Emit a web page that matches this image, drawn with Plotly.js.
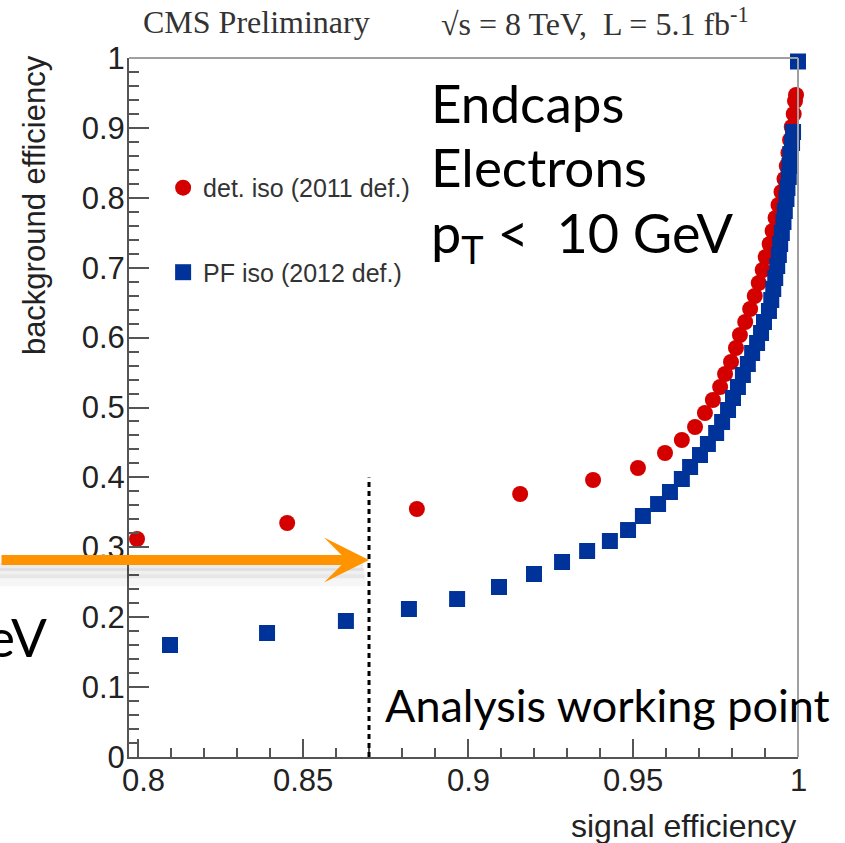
<!DOCTYPE html>
<html>
<head>
<meta charset="utf-8">
<script src="https://cdn.plot.ly/plotly-3.0.1.min.js"></script>
<style>
  html, body { margin: 0; padding: 0; background: #ffffff; }
  #chart { width: 845px; height: 843px; }
</style>
</head>
<body>
<div id="chart"></div>
<script>
// Electron isolation ROC curves, endcaps, pT < 10 GeV.
// det. iso (2011 definition) — signal efficiency / background efficiency
const detIsoSig = [0.7997, 0.8452, 0.8845, 0.9158, 0.9379, 0.9515, 0.9597, 0.9648, 0.9688, 0.9718,
  0.9742, 0.9764, 0.9779, 0.9797, 0.9812, 0.9824, 0.9840, 0.9855, 0.9869, 0.9881,
  0.9893, 0.9902, 0.9914, 0.9923, 0.9932, 0.9941, 0.9950, 0.9959, 0.9966, 0.9971,
  0.9976, 0.9981, 0.9987, 0.9991, 0.9994];
const detIsoBkg = [0.3119, 0.3348, 0.3548, 0.3763, 0.3963, 0.4134, 0.4349, 0.4535, 0.4721, 0.4921,
  0.5107, 0.5293, 0.5479, 0.5651, 0.5851, 0.6037, 0.6223, 0.6409, 0.6595, 0.6781,
  0.6967, 0.7153, 0.7339, 0.7525, 0.7711, 0.7897, 0.8083, 0.8269, 0.8455, 0.8641,
  0.8827, 0.9013, 0.9199, 0.9385, 0.9471];

// PF iso (2012 definition)
const pfIsoSig = [0.8097, 0.8391, 0.8630, 0.8821, 0.8967, 0.9094, 0.9200, 0.9285, 0.9361, 0.9430,
  0.9485, 0.9530, 0.9576, 0.9612, 0.9648, 0.9673, 0.9703, 0.9727, 0.9752, 0.9770,
  0.9788, 0.9803, 0.9818, 0.9833, 0.9848, 0.9861, 0.9876, 0.9888, 0.9897, 0.9912,
  0.9919, 0.9925, 0.9931, 0.9937, 0.9942, 0.9946, 0.9951, 0.9956, 0.9960, 0.9965,
  0.9968, 0.9972, 0.9974, 0.9977, 0.9982, 0.9985, 1.0000];
const pfIsoBkg = [0.1602, 0.1774, 0.1946, 0.2117, 0.2260, 0.2432, 0.2618, 0.2790, 0.2947, 0.3090,
  0.3247, 0.3448, 0.3619, 0.3791, 0.3977, 0.4149, 0.4320, 0.4478, 0.4635, 0.4793,
  0.4964, 0.5136, 0.5293, 0.5465, 0.5622, 0.5780, 0.5923, 0.6066, 0.6223, 0.6381,
  0.6538, 0.6695, 0.6853, 0.7024, 0.7182, 0.7339, 0.7496, 0.7654, 0.7811, 0.7983,
  0.8140, 0.8298, 0.8455, 0.8627, 0.8784, 0.8941, 0.9950];

const seriesNames = ['det. iso (2011 def.)', 'PF iso (2012 def.)'];
const xTickVals = [0.8, 0.85, 0.9, 0.95, 1];
const xTickText = ['0.8', '0.85', '0.9', '0.95', '1'];
const yTickVals = [0, 0.1, 0.2, 0.3, 0.4, 0.5, 0.6, 0.7, 0.8, 0.9, 1];
const yTickText = ['0', '0.1', '0.2', '0.3', '0.4', '0.5', '0.6', '0.7', '0.8', '0.9', '1'];

const workingPoint = 0.87;   // chosen signal efficiency
const arrowLevel = 0.282;    // height of the pointer arrow
const wpLineTop = 0.4;

const RED = '#d40000';
const BLUE = '#00339a';
const AXIS = '#555555';
const sans = 'Liberation Sans, Arial, Helvetica, sans-serif';
const serif = 'Liberation Serif, Times New Roman, serif';
const slide = 'Lato, Open Sans, sans-serif';

const traces = [
  {
    type: 'scatter', mode: 'markers', name: seriesNames[0], legendgroup: 'a',
    x: detIsoSig, y: detIsoBkg,
    marker: { symbol: 'circle', size: 16, color: RED, line: { width: 0 } },
    cliponaxis: false
  },
  {
    type: 'scatter', mode: 'markers', name: seriesNames[1], legendgroup: 'b',
    x: pfIsoSig, y: pfIsoBkg,
    marker: { symbol: 'square', size: 16, color: BLUE, line: { width: 0 } },
    cliponaxis: false
  }
];

// x tick labels sit tight under the axis, as in ROOT output
const xLabelAnnotations = xTickVals.map((v, i) => ({
  text: xTickText[i], xref: 'x', yref: 'paper', x: v, y: -0.034,
  xanchor: 'center', yanchor: 'middle', xshift: i === 0 ? 5 : 0,
  showarrow: false, font: { family: sans, size: 31, color: '#222222' }
}));

const layout = {
  width: 845, height: 843,
  margin: { l: 129, r: 47, t: 58, b: 86 },
  paper_bgcolor: '#ffffff', plot_bgcolor: '#ffffff',
  showlegend: true,
  legend: {
    x: 0.051, y: 0.847, xanchor: 'left', yanchor: 'top',
    bgcolor: 'rgba(0,0,0,0)', borderwidth: 0,
    font: { family: sans, size: 25, color: '#333333' },
    tracegroupgap: 49, itemclick: false
  },
  xaxis: {
    range: [0.79727, 1.0], showgrid: false, zeroline: false,
    showline: true, linecolor: AXIS, linewidth: 2,
    ticks: 'inside', ticklen: 18, tickwidth: 2, tickcolor: AXIS,
    tickvals: xTickVals, showticklabels: false,
    minor: { ticks: 'inside', dtick: 0.01, tick0: 0.8, ticklen: 9, tickwidth: 2, tickcolor: AXIS, showgrid: false }
  },
  yaxis: {
    range: [0, 1], showgrid: false, zeroline: false,
    showline: true, linecolor: AXIS, linewidth: 2,
    ticks: 'inside', ticklen: 20, tickwidth: 2, tickcolor: AXIS,
    tickvals: yTickVals, ticktext: yTickText, ticklabelstandoff: -4,
    tickfont: { family: sans, size: 31, color: '#222222' },
    minor: { ticks: 'inside', dtick: 0.02, tick0: 0, ticklen: 10, tickwidth: 2, tickcolor: AXIS, showgrid: false }
  },
  shapes: [
    // upper and right frame edges
    { type: 'line', xref: 'paper', yref: 'paper', x0: 0, x1: 1, y0: 1, y1: 1, line: { color: '#a0a0a0', width: 2 } },
    { type: 'line', xref: 'paper', yref: 'paper', x0: 1, x1: 1, y0: 0, y1: 1, line: { color: '#a0a0a0', width: 2 } },
    // working point marker
    { type: 'line', xref: 'x', yref: 'y', x0: workingPoint, x1: workingPoint, y0: 0, y1: wpLineTop,
      line: { color: '#000000', width: 3, dash: '5px,4px' } },
    // soft drop shadow under the pointer arrow
    { type: 'line', xref: 'paper', yref: 'paper', x0: -0.3, x1: 0.35, y0: 0.272, y1: 0.272, line: { color: 'rgba(0,0,0,0.07)', width: 8 } },
    { type: 'line', xref: 'paper', yref: 'paper', x0: -0.3, x1: 0.352, y0: 0.263, y1: 0.263, line: { color: 'rgba(0,0,0,0.06)', width: 10 } },
    { type: 'line', xref: 'paper', yref: 'paper', x0: -0.3, x1: 0.354, y0: 0.253, y1: 0.253, line: { color: 'rgba(0,0,0,0.035)', width: 12 } }
  ],
  annotations: xLabelAnnotations.concat([
    { text: 'CMS Preliminary', xref: 'paper', yref: 'paper', x: 0.19, y: 1.052, xanchor: 'center', yanchor: 'middle',
      showarrow: false, font: { family: serif, size: 32, color: '#333333' } },
    { text: '\u221As = 8 TeV,  L = 5.1 fb<sup>-1</sup>', xref: 'paper', yref: 'paper', x: 0.697, y: 1.052, xanchor: 'center', yanchor: 'middle',
      showarrow: false, font: { family: serif, size: 32, color: '#333333' } },
    { text: 'background efficiency', xref: 'paper', yref: 'paper', x: -0.142, y: 1.007, xanchor: 'center', yanchor: 'top',
      textangle: -90, showarrow: false, font: { family: sans, size: 31, color: '#222222' } },
    { text: 'signal efficiency', xref: 'paper', yref: 'paper', x: 1.0, y: -0.098, xanchor: 'right', yanchor: 'middle',
      showarrow: false, font: { family: sans, size: 32, color: '#222222' } },
    { text: 'Endcaps', xref: 'paper', yref: 'paper', x: 0.449, y: 0.936, xanchor: 'left', yanchor: 'middle',
      showarrow: false, font: { family: slide, size: 53, color: '#000000' } },
    { text: 'Electrons', xref: 'paper', yref: 'paper', x: 0.449, y: 0.845, xanchor: 'left', yanchor: 'middle',
      showarrow: false, font: { family: slide, size: 53, color: '#000000' } },
    { text: 'p<sub>T</sub> &lt;  10 GeV', xref: 'paper', yref: 'paper', x: 0.449, y: 0.745, xanchor: 'left', yanchor: 'middle',
      showarrow: false, font: { family: slide, size: 54, color: '#000000' } },
    { text: 'Analysis working point', xref: 'paper', yref: 'paper', x: 0.379, y: 0.074, xanchor: 'left', yanchor: 'middle',
      showarrow: false, font: { family: slide, size: 45, color: '#000000' } },
    { text: 'eV', xref: 'paper', yref: 'paper', x: -0.12, y: 0.173, xanchor: 'right', yanchor: 'middle',
      showarrow: false, font: { family: slide, size: 53, color: '#000000' } },
    // orange pointer to the working point
    { text: '', xref: 'x', yref: 'y', x: workingPoint, y: arrowLevel, ax: -390, ay: 0,
      showarrow: true, arrowhead: 3, arrowsize: 0.75, arrowwidth: 10, arrowcolor: '#ff9400', standoff: 0 }
  ])
};

Plotly.newPlot('chart', traces, layout, { staticPlot: true, displayModeBar: false });
</script>
</body>
</html>
